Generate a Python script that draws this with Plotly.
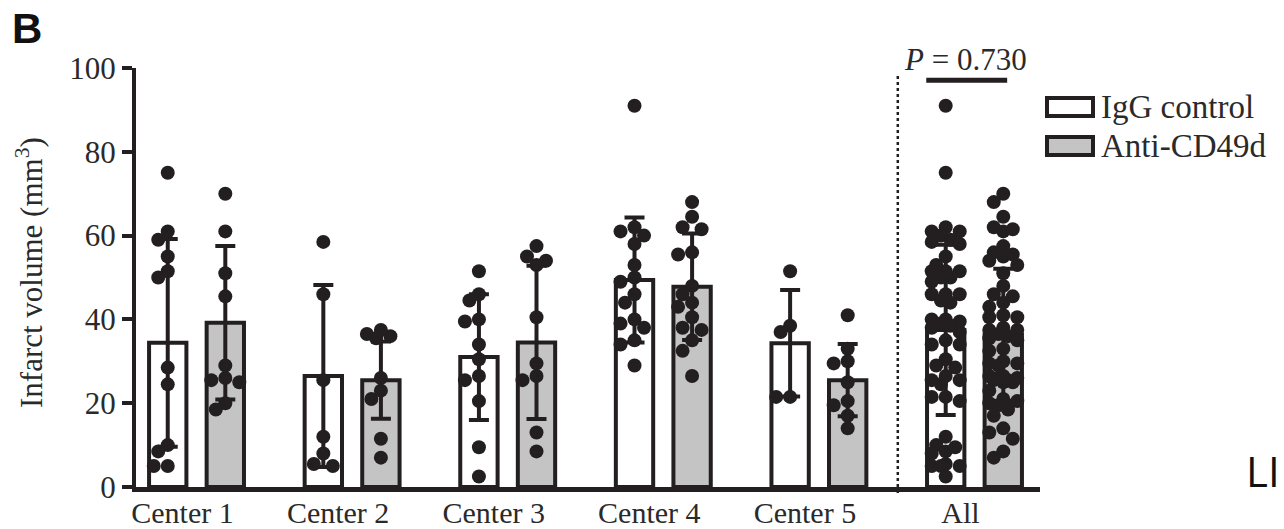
import plotly.graph_objects as go

# ---------------- data ----------------
groups = ["Center 1", "Center 2", "Center 3", "Center 4", "Center 5", "All"]
igg_mean = [34.4, 26.5, 31.0, 49.4, 34.3, 37.5]
igg_sd = [24.8, 21.7, 15.0, 14.9, 12.7, 20.3]
anti_mean = [39.2, 25.5, 34.5, 47.8, 25.5, 36.3]
anti_sd = [18.3, 9.2, 18.3, 12.7, 8.6, 15.8]

igg_c1 = [75, 61, 59, 55, 51.5, 50, 28.5, 24.5, 10, 8.5, 5, 5]
anti_c1 = [70, 61, 51, 45.5, 29, 26, 25.5, 25, 20, 18.5]
igg_c2 = [58.5, 46, 25.5, 12, 8, 5.5, 5]
anti_c2 = [37.5, 36.5, 36, 35.5, 26, 23, 21, 11.5, 7]
igg_c3 = [51.5, 46, 44.5, 40, 39.5, 34, 30.5, 26.5, 25.5, 20.5, 9.5, 2.5]
anti_c3 = [57.5, 55, 54, 53, 40.5, 29.5, 26.5, 25.5, 13, 8.5]
igg_c4 = [91, 62, 61, 60, 58, 53, 50, 49, 46, 44, 40, 39, 38, 35, 34, 29]
anti_c4 = [68, 64.5, 62, 61.5, 56, 55.5, 48, 46, 44, 43, 40.5, 38, 37.5, 35, 32.5, 26.5]
igg_c5 = [51.5, 38.5, 37, 21.5, 21.5]
anti_c5 = [41, 33, 30, 29.5, 25, 20.5, 19.5, 17, 14]
# "All" = every animal from the five centres
igg_all = igg_c1 + igg_c2 + igg_c3 + igg_c4 + igg_c5
anti_all = anti_c1 + anti_c2 + anti_c3 + anti_c4 + anti_c5

igg_points = [igg_c1, igg_c2, igg_c3, igg_c4, igg_c5, igg_all]
anti_points = [anti_c1, anti_c2, anti_c3, anti_c4, anti_c5, anti_all]

p_text = "<i>P</i> = 0.730"
legend_names = ["IgG control", "Anti-CD49d"]

# ---------------- style / layout constants ----------------
DARK = "#231f20"
GREY = "#c4c4c4"
TXT = "#2a2a2a"
SERIF = "Liberation Serif, Times New Roman, serif"
W, H = 1284, 529
L, R, T, B = 136, 244, 68, 42
XR = [-0.389, 5.421]
YR = [0, 100]
PX_X = (W - L - R) / (XR[1] - XR[0])
PX_Y = (H - T - B) / (YR[1] - YR[0])
OFF = 0.185
BW = 0.24


def beeswarm(vals, step_px=9.5, min_d=10.5):
    cands = [0, -step_px, step_px, -14, 14, -4.75, 4.75]
    placed = []
    out = {}
    order = sorted(range(len(vals)), key=lambda i: -vals[i])
    for i in order:
        ypx = vals[i] * PX_Y
        best, bestd = 0, -1
        for c in cands:
            d = min([((c - px) ** 2 + (ypx - py) ** 2) ** 0.5 for px, py in placed] or [1e9])
            if d >= min_d:
                best, bestd = c, d
                break
            if d > bestd:
                best, bestd = c, d
        placed.append((best, ypx))
        out[i] = best / PX_X
    return [out[i] for i in range(len(vals))]


fig = go.Figure()
xi = list(range(len(groups)))

fig.add_trace(go.Bar(
    x=[i - OFF for i in xi], y=igg_mean, width=BW, name=legend_names[0],
    marker=dict(color="white", line=dict(color=DARK, width=4)),
    error_y=dict(type="data", array=igg_sd, visible=True, thickness=4, width=10, color=DARK),
    showlegend=False))
fig.add_trace(go.Bar(
    x=[i + OFF for i in xi], y=anti_mean, width=BW, name=legend_names[1],
    marker=dict(color=GREY, line=dict(color=DARK, width=4)),
    error_y=dict(type="data", array=anti_sd, visible=True, thickness=4, width=10, color=DARK),
    showlegend=False))

for sign, pts_list in ((-1, igg_points), (1, anti_points)):
    xs, ys = [], []
    for i, pts in enumerate(pts_list):
        jit = beeswarm(pts)
        xs += [i + sign * OFF + j for j in jit]
        ys += pts
    fig.add_trace(go.Scatter(x=xs, y=ys, mode="markers", cliponaxis=False,
                             marker=dict(size=14, color=DARK), showlegend=False,
                             hoverinfo="y"))


def xp(px):
    return (px - L) / (W - L - R)


def yp(py):
    return (H - B - py) / (H - T - B)


shapes = [
    # dotted separator before "All"
    dict(type="line", xref="x", yref="paper", x0=4.507, x1=4.507, y0=yp(493), y1=yp(75),
         line=dict(color=DARK, width=2.5, dash="dot")),
    # significance bar
    dict(type="line", xref="x", yref="y", x0=4.69, x1=5.21, y0=97.1, y1=97.1,
         line=dict(color=DARK, width=5)),
    # legend boxes
    dict(type="rect", xref="paper", yref="paper", x0=xp(1047), x1=xp(1093), y0=yp(116), y1=yp(98),
         fillcolor="white", line=dict(color=DARK, width=4)),
    dict(type="rect", xref="paper", yref="paper", x0=xp(1047), x1=xp(1093), y0=yp(155), y1=yp(137),
         fillcolor=GREY, line=dict(color=DARK, width=4)),
]

annotations = [
    dict(text=p_text, xref="paper", yref="paper", x=xp(965), y=yp(59), showarrow=False,
         xanchor="center", yanchor="middle",
         font=dict(family=SERIF, size=31, color=TXT)),
    dict(text=legend_names[0], xref="paper", yref="paper", x=xp(1099), y=yp(107),
         xanchor="left", yanchor="middle", showarrow=False,
         font=dict(family=SERIF, size=33, color=TXT)),
    dict(text=legend_names[1], xref="paper", yref="paper", x=xp(1099), y=yp(146),
         xanchor="left", yanchor="middle", showarrow=False,
         font=dict(family=SERIF, size=33, color=TXT)),
    dict(text="Infarct volume (mm<sup>3</sup>)", xref="paper", yref="paper", x=xp(29), y=yp(273),
         textangle=-90, showarrow=False, xanchor="center", yanchor="middle",
         font=dict(family=SERIF, size=31, color=TXT)),
    dict(text="<b>B</b>", xref="paper", yref="paper", x=xp(10), y=yp(29),
         xanchor="left", yanchor="middle", showarrow=False,
         font=dict(family="Liberation Sans, Arial, sans-serif", size=42, color="#111111")),
    dict(text="LI", xref="paper", yref="paper", x=xp(1282), y=yp(470),
         xanchor="right", yanchor="middle", showarrow=False,
         font=dict(family="Open Sans, Liberation Sans, sans-serif", size=42, color="#111111")),
]

fig.update_layout(
    width=W, height=H, margin=dict(l=L, r=R, t=T, b=B, autoexpand=False),
    paper_bgcolor="white", plot_bgcolor="white",
    barmode="overlay", showlegend=False,
    shapes=shapes, annotations=annotations,
    xaxis=dict(range=XR, tickvals=xi, ticktext=groups, ticks="", showgrid=False, zeroline=False,
               showline=True, linewidth=5, linecolor=DARK, automargin=False,
               ticklabelshift=-14, ticklabelstandoff=-5,
               tickfont=dict(family=SERIF, size=30, color=TXT)),
    yaxis=dict(range=YR, tickvals=[0, 20, 40, 60, 80, 100], ticks="outside", ticklen=10,
               tickwidth=4, tickcolor=DARK, showgrid=False, zeroline=False, automargin=False,
               showline=True, linewidth=4, linecolor=DARK,
               tickfont=dict(family=SERIF, size=31, color=TXT)),
)

fig.write_html("out.html", config={"displayModeBar": False},
               post_script="document.body.style.margin='0';document.body.style.overflow='hidden';")
